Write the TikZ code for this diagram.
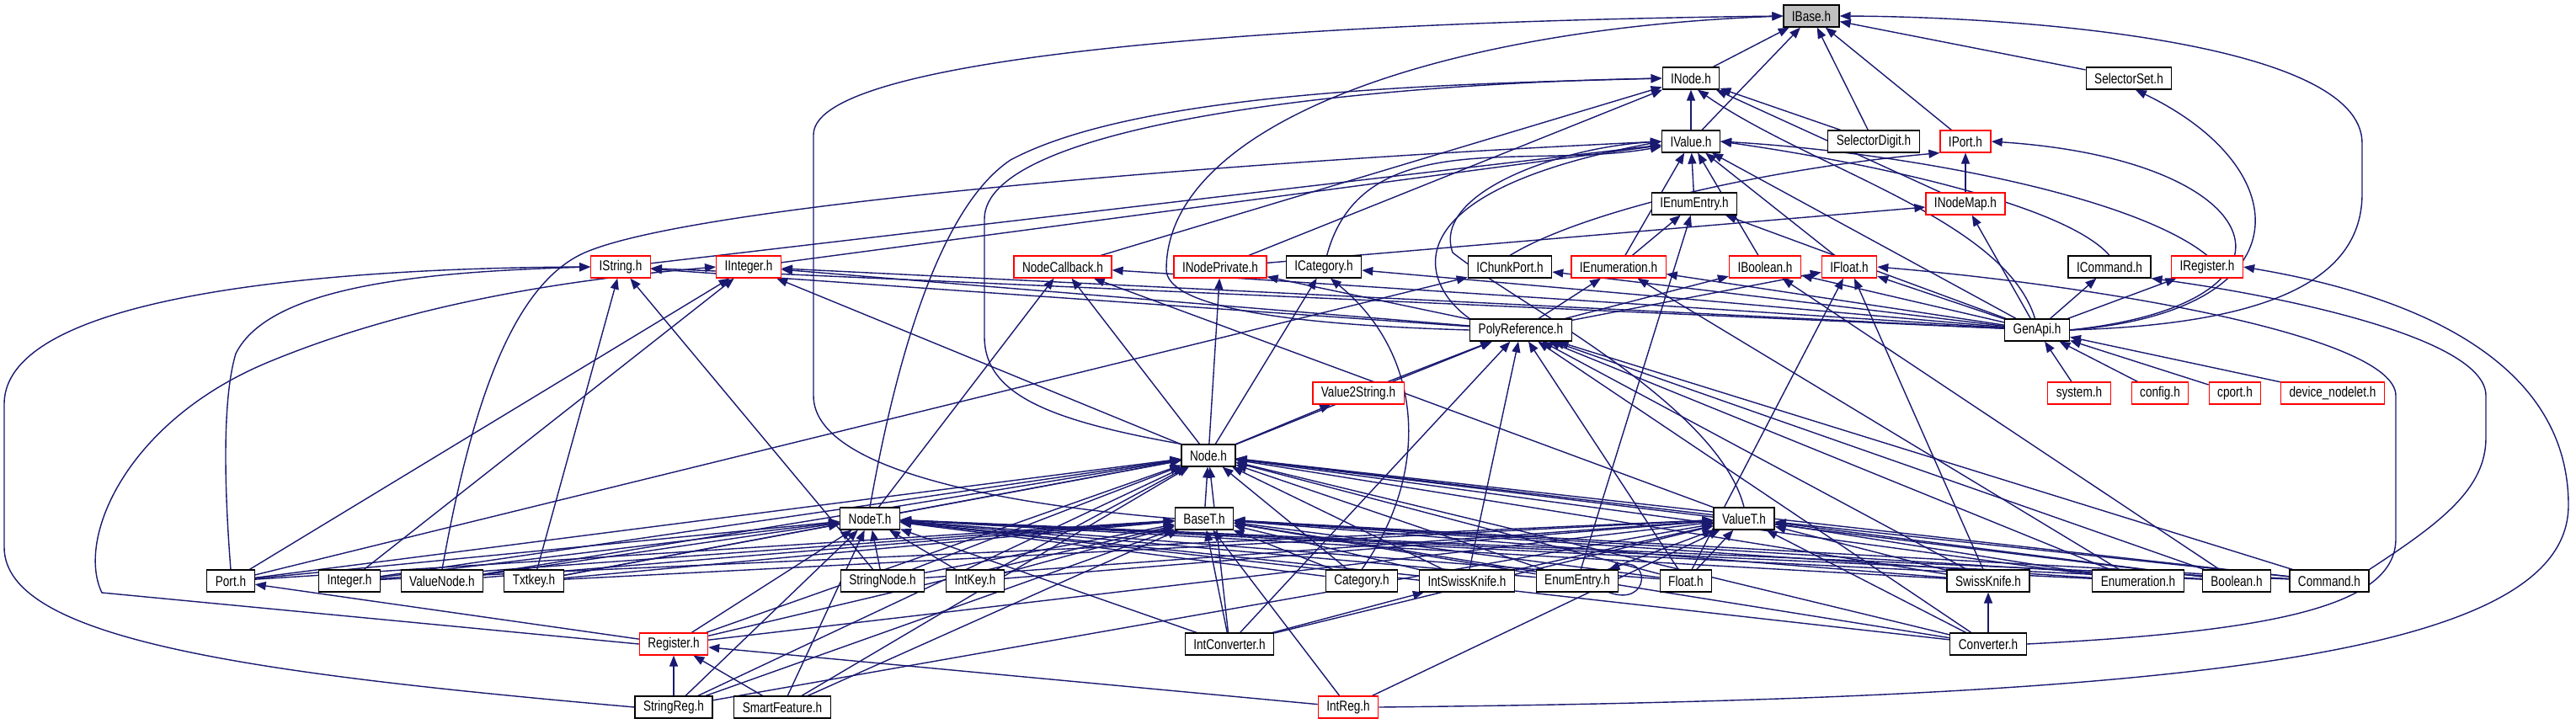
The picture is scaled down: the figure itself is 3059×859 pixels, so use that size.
\documentclass[tikz,border=0pt]{standalone}
\usepackage{fontspec}
\setmainfont{Liberation Sans}[FakeStretch=0.8]
\usetikzlibrary{arrows.meta}
\definecolor{edgeblue}{HTML}{191970}
\definecolor{boxred}{HTML}{FF0000}
\definecolor{basegray}{HTML}{BFBFBF}
\pgfdeclarelayer{edges}
\pgfsetlayers{edges,main}

\begin{document}
\begin{tikzpicture}[
        x=0.5pt, y=-0.5pt,
    hdr/.style={draw=black, fill=white, line width=0.6pt, inner xsep=5pt, inner ysep=0pt,
        minimum height=13pt, font=\fontsize{8.5}{10}\selectfont},
    redhdr/.style={hdr, draw=boxred},
    inc/.style={draw=edgeblue, line width=0.7pt, -{Triangle[length=6.5pt,width=5pt]}}
]
    \useasboundingbox (0,0) rectangle (3059,859);

    \node [hdr, fill=basegray] (ibase) at (2151,19) {IBase.h};
    \node [hdr] (inode) at (2008,93) {INode.h};
    \node [hdr] (selset) at (2528,93) {SelectorSet.h};
    \node [hdr] (ivalue) at (2008,168) {IValue.h};
    \node [hdr] (seldigit) at (2225,168) {SelectorDigit.h};
    \node [redhdr] (iport) at (2334,168) {IPort.h};
    \node [hdr] (ienumentry) at (2012,242) {IEnumEntry.h};
    \node [redhdr] (inodemap) at (2334,242) {INodeMap.h};
    \node [redhdr] (istring) at (737,317) {IString.h};
    \node [redhdr] (iinteger) at (889,317) {IInteger.h};
    \node [redhdr] (nodecb) at (1262,317) {NodeCallback.h};
    \node [redhdr] (inodepriv) at (1449,317) {INodePrivate.h};
    \node [hdr] (icategory) at (1572,317) {ICategory.h};
    \node [hdr] (ichunkport) at (1793,317) {IChunkPort.h};
    \node [redhdr] (ienum) at (1922,317) {IEnumeration.h};
    \node [redhdr] (iboolean) at (2096,317) {IBoolean.h};
    \node [redhdr] (ifloat) at (2196,317) {IFloat.h};
    \node [hdr] (icommand) at (2505,317) {ICommand.h};
    \node [redhdr] (iregister) at (2621,317) {IRegister.h};
    \node [hdr] (polyref) at (1806,392) {PolyReference.h};
    \node [hdr] (genapi) at (2419,392) {GenApi.h};
    \node [redhdr] (val2str) at (1613,467) {Value2String.h};
    \node [redhdr] (system) at (2469,467) {system.h};
    \node [redhdr] (config) at (2565,467) {config.h};
    \node [redhdr] (cport) at (2654,467) {cport.h};
    \node [redhdr] (devnodelet) at (2770,467) {device\_nodelet.h};
    \node [hdr] (nodeh) at (1435,541) {Node.h};
    \node [hdr] (nodet) at (1033,616) {NodeT.h};
    \node [hdr] (baset) at (1430,616) {BaseT.h};
    \node [hdr] (valuet) at (2071,616) {ValueT.h};
    \node [hdr] (port) at (274,690) {Port.h};
    \node [hdr] (integer) at (415,690) {Integer.h};
    \node [hdr] (valnode) at (525,690) {ValueNode.h};
    \node [hdr] (txtkey) at (634,690) {Txtkey.h};
    \node [hdr] (strnode) at (1048,690) {StringNode.h};
    \node [hdr] (intkey) at (1158,690) {IntKey.h};
    \node [hdr] (category) at (1617,690) {Category.h};
    \node [hdr] (intswiss) at (1742,690) {IntSwissKnife.h};
    \node [hdr] (enumentry) at (1873,690) {EnumEntry.h};
    \node [hdr] (floath) at (2002,690) {Float.h};
    \node [hdr] (swiss) at (2361,690) {SwissKnife.h};
    \node [hdr] (enumeration) at (2539,690) {Enumeration.h};
    \node [hdr] (boolean) at (2656,690) {Boolean.h};
    \node [hdr] (command) at (2766,690) {Command.h};
    \node [redhdr] (reg) at (800,765) {Register.h};
    \node [hdr] (intconv) at (1460,765) {IntConverter.h};
    \node [hdr] (converter) at (2361,765) {Converter.h};
    \node [hdr] (strreg) at (800,840) {StringReg.h};
    \node [hdr] (smartfeat) at (929,840) {SmartFeature.h};
    \node [redhdr] (intreg) at (1601,840) {IntReg.h};

    \begin{pgfonlayer}{edges}
    \path (inode) edge [inc] (ibase);
    \path (selset) edge [inc] (ibase);
    \path (ivalue) edge [inc] (ibase) edge [inc] (inode);
    \path (seldigit) edge [inc] (ibase) edge [inc] (inode);
    \path (iport) edge [inc] (ibase);
    \path (ienumentry) edge [inc] (ivalue);
    \path (inodemap) edge [inc] (inode) edge [inc] (iport);
    \path (istring) edge [inc] (ivalue);
    \path (iinteger) edge [inc] (ivalue);
    \path (nodecb) edge [inc] (inode);
    \path (inodepriv) edge [inc] (inode) edge [inc] (inodemap);
    \path (icategory) edge [inc, out=75, in=190] (ivalue);
    \path (ienum) edge [inc] (ivalue) edge [inc] (ienumentry);
    \path (iboolean) edge [inc] (ivalue);
    \path (ifloat) edge [inc] (ivalue);
    \draw [inc] (ichunkport.north) .. controls (1880,250) and (2100,200) .. (iport.south west);
    \draw [inc] (icommand.north) .. controls (2450,240) and (2200,190) .. (ivalue.east);
    \draw [inc] (iregister.north) .. controls (2530,230) and (2250,180) .. (ivalue.east);

    \path (polyref) edge [inc] (inodepriv) edge [inc] (istring) edge [inc] (iinteger)
        edge [inc] (ienum) edge [inc] (iboolean) edge [inc] (ifloat);
    \draw [inc] (polyref.west) .. controls (1500,385) and (1385,360) .. (1385,320)
        .. controls (1385,150) and (1700,35) .. (ibase.west);
    \draw [inc] (polyref.north west) .. controls (1690,340) and (1640,230) .. (ivalue.west);

    \path (genapi) edge [inc] (ivalue) edge [inc] (ienumentry) edge [inc] (inodemap)
        edge [inc] (istring) edge [inc] (iinteger) edge [inc] (nodecb) edge [inc] (icategory)
        edge [inc] (ichunkport) edge [inc] (ienum) edge [inc] (iboolean) edge [inc] (ifloat)
        edge [inc] (icommand) edge [inc] (iregister);
    \draw [inc] (genapi.east) .. controls (2700,385) and (2805,330) .. (2805,230) -- (2805,170)
        .. controls (2805,50) and (2400,20) .. (ibase.east);
    \draw [inc] (genapi.east) .. controls (2740,370) and (2730,200) .. (selset.-60);
    \draw [inc] (genapi.east) .. controls (2760,360) and (2700,190) .. (iport.east);
    \draw [inc] (genapi.100) .. controls (2380,260) and (2150,200) .. (inode.-60);
    \path (system) edge [inc] (genapi);
    \path (config) edge [inc] (genapi);
    \path (cport) edge [inc] (genapi);
    \path (devnodelet) edge [inc] (genapi);
    \path (val2str) edge [inc] (polyref);

    \path (nodeh) edge [inc] (val2str) edge [inc] (polyref) edge [inc] (iinteger)
        edge [inc] (nodecb) edge [inc] (inodepriv) edge [inc] (icategory);
    \draw [inc] (nodeh.north west) .. controls (1250,500) and (1169,470) .. (1169,400) -- (1169,260)
        .. controls (1169,150) and (1600,100) .. (inode.west);
    \path (nodet) edge [inc] (nodecb) edge [inc] (nodeh);
    \draw [inc] (nodet.north) .. controls (1060,450) and (1110,250) .. (1200,190)
        .. controls (1350,110) and (1700,100) .. (inode.west);
    \path (baset) edge [inc] (nodeh);
    \draw [inc] (baset.west) .. controls (1200,600) and (966,560) .. (966,470) -- (966,160)
        .. controls (966,60) and (1600,25) .. (ibase.west);
    \path (valuet) edge [inc] (nodecb) edge [inc] (nodeh);
    \draw [inc] (valuet.north) .. controls (2040,480) and (1800,360) .. (1725,300)
        .. controls (1700,230) and (1850,175) .. (ivalue.west);

    \path (port) edge [inc] (nodeh) edge [inc] (nodet) edge [inc] (baset)
        edge [inc] (iinteger) edge [inc] (ichunkport);
    \draw [inc] (port.north) .. controls (268,600) and (262,480) .. (280,420)
        .. controls (320,340) and (500,323) .. (istring.west);
    \path (integer) edge [inc] (nodeh) edge [inc] (nodet) edge [inc] (baset)
        edge [inc] (valuet) edge [inc] (iinteger);
    \path (valnode) edge [inc] (nodeh) edge [inc] (nodet) edge [inc] (baset);
    \draw [inc] (valnode.north) .. controls (560,480) and (610,330) .. (702,297)
        .. controls (850,240) and (1500,190) .. (ivalue.west);
    \path (txtkey) edge [inc] (nodeh) edge [inc] (nodet) edge [inc] (baset)
        edge [inc] (valuet) edge [inc] (istring);
    \path (strnode) edge [inc] (nodeh) edge [inc] (nodet) edge [inc] (baset)
        edge [inc] (valuet) edge [inc] (istring);
    \path (intkey) edge [inc] (nodeh) edge [inc] (nodet) edge [inc] (baset) edge [inc] (valuet);
    \path (category) edge [inc] (nodeh) edge [inc] (nodet) edge [inc] (baset);
    \draw [inc] (category.north) .. controls (1700,560) and (1690,420) .. (icategory.-60);
    \path (intswiss) edge [inc] (nodeh) edge [inc] (nodet) edge [inc] (baset)
        edge [inc] (valuet) edge [inc] (polyref);
    \path (enumentry) edge [inc] (nodeh) edge [inc] (nodet) edge [inc] (baset)
        edge [inc] (valuet) edge [inc] (ienumentry)
        edge [inc, out=-20, in=20, looseness=5] (enumentry);
    \path (floath) edge [inc] (nodeh) edge [inc] (nodet) edge [inc] (baset)
        edge [inc] (valuet) edge [inc] (polyref) edge [inc] (ifloat);
    \path (swiss) edge [inc] (nodeh) edge [inc] (nodet) edge [inc] (baset)
        edge [inc] (valuet) edge [inc] (polyref) edge [inc] (ifloat);
    \path (enumeration) edge [inc] (nodeh) edge [inc] (nodet) edge [inc] (baset)
        edge [inc] (valuet) edge [inc] (polyref) edge [inc] (ienum);
    \path (boolean) edge [inc] (nodeh) edge [inc] (nodet) edge [inc] (baset)
        edge [inc] (valuet) edge [inc] (polyref) edge [inc] (iboolean);
    \path (command) edge [inc] (nodeh) edge [inc] (nodet) edge [inc] (baset)
        edge [inc] (valuet) edge [inc] (polyref);
    \draw [inc] (command.north east) .. controls (2900,620) and (2952,580) .. (2952,520) -- (2952,470)
        .. controls (2952,400) and (2700,350) .. (icommand.south east);
    \path (reg) edge [inc] (nodeh) edge [inc] (nodet) edge [inc] (baset)
        edge [inc] (valuet) edge [inc] (port);
    \draw [inc] (reg.west) -- (121,704) .. controls (90,640) and (150,500) .. (319,430)
        .. controls (500,355) and (700,330) .. (iinteger.west);
    \path (intconv) edge [inc] (nodeh) edge [inc] (nodet) edge [inc] (baset)
        edge [inc] (valuet) edge [inc] (polyref) edge [inc] (intswiss);
    \path (converter) edge [inc] (nodeh) edge [inc] (nodet) edge [inc] (baset)
        edge [inc] (valuet) edge [inc] (polyref) edge [inc] (swiss);
    \draw [inc] (converter.east) .. controls (2700,750) and (2845,720) .. (2845,640) -- (2845,470)
        .. controls (2845,400) and (2500,340) .. (ifloat.east);
    \path (strreg) edge [inc] (reg) edge [inc] (nodeh) edge [inc] (nodet)
        edge [inc] (baset) edge [inc] (valuet);
    \draw [inc] (strreg.west) .. controls (300,800) and (5,760) .. (5,650) -- (5,480)
        .. controls (5,340) and (450,318) .. (istring.west);
    \path (smartfeat) edge [inc] (reg) edge [inc] (nodeh) edge [inc] (nodet) edge [inc] (baset);
    \path (intreg) edge [inc] (reg) edge [inc] (baset) edge [inc] (valuet);
    \draw [inc] (intreg.east) .. controls (2600,830) and (3050,780) .. (3050,600)
        .. controls (3050,400) and (2800,340) .. (iregister.east);
    \end{pgfonlayer}
  \end{tikzpicture}
\end{document}
